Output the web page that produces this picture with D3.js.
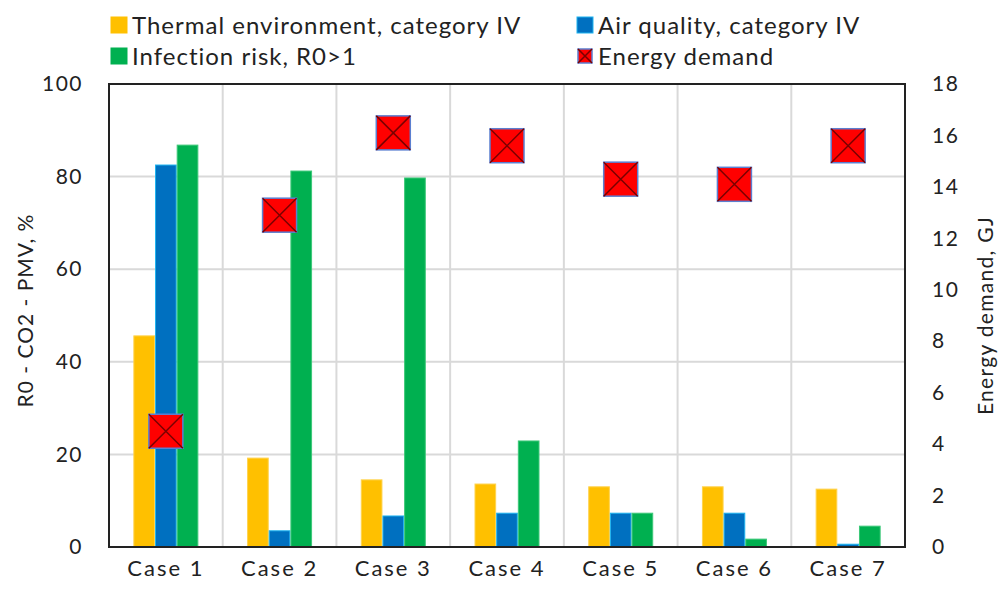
<!DOCTYPE html>
<html>
<head>
<meta charset="utf-8">
<script src="https://cdn.jsdelivr.net/npm/d3@7"></script>
<style>
  body { margin: 0; background: #fff; }
  svg text { font-family: Lato, "Liberation Sans", sans-serif; fill: #222; }
</style>
</head>
<body>
<svg id="chart" width="1001" height="590"></svg>
<script>
// Cases along the x axis
const categories = ["Case 1", "Case 2", "Case 3", "Case 4", "Case 5", "Case 6", "Case 7"];
// Percentages (left axis)
const thermal = [45.6, 19.2, 14.5, 13.6, 13.0, 13.0, 12.5];
const airQuality = [82.5, 3.5, 6.7, 7.3, 7.3, 7.3, 0.6];
const infection = [86.8, 81.2, 79.7, 22.9, 7.3, 1.7, 4.5];
// Energy demand in GJ (right axis)
const energy = [4.5, 12.9, 16.1, 15.6, 14.3, 14.1, 15.6];
const leftTicks = [0, 20, 40, 60, 80, 100];
const rightTicks = [0, 2, 4, 6, 8, 10, 12, 14, 16, 18];

const seriesNames = ["Thermal environment, category IV", "Air quality, category IV", "Infection risk, R0>1", "Energy demand"];

const svg = d3.select("#chart");
const m = { left: 109, right: 96, top: 84, bottom: 43 };
const W = 1001, H = 590;
const x0 = m.left, x1 = W - m.right, y0 = H - m.bottom, y1 = m.top;

const x = d3.scaleBand().domain(categories).range([x0, x1]);
const yL = d3.scaleLinear().domain([0, 100]).range([y0, y1]);
const yR = d3.scaleLinear().domain([0, 18]).range([y0, y1]);

const bars = [
  { key: "thermal", values: thermal, fill: "#FFC000", stroke: "#FFD34D" },
  { key: "air", values: airQuality, fill: "#0070C0", stroke: "#1EB4F0" },
  { key: "infection", values: infection, fill: "#00B050", stroke: "#3CC878" }
];
const inner = d3.scaleBand().domain(bars.map(b => b.key)).range([0, 65]);
const groupOffset = (x.bandwidth() - 65) / 2;

// Gridlines
const grid = svg.append("g").attr("stroke", "#d9d9d9").attr("stroke-width", 2);
grid.selectAll("line.h").data(leftTicks.filter(t => t > 0 && t < 100)).join("line")
  .attr("x1", x0).attr("x2", x1).attr("y1", d => yL(d)).attr("y2", d => yL(d));
grid.selectAll("line.v").data(categories.slice(1)).join("line")
  .attr("x1", d => x(d)).attr("x2", d => x(d)).attr("y1", y1).attr("y2", y0);

// Bars
bars.forEach(b => {
  svg.append("g").selectAll("rect").data(b.values).join("rect")
    .attr("x", (d, i) => x(categories[i]) + groupOffset + inner(b.key) + 0.5)
    .attr("width", inner.bandwidth() - 1)
    .attr("y", d => yL(d))
    .attr("height", d => y0 - yL(d))
    .attr("fill", b.fill)
    .attr("stroke", b.stroke).attr("stroke-width", 1);
});

// Frame
svg.append("rect").attr("x", x0).attr("y", y1).attr("width", x1 - x0).attr("height", y0 - y1)
  .attr("fill", "none").attr("stroke", "#222").attr("stroke-width", 2);

// Energy markers
const ms = 34;
function marker(g, s) {
  g.append("rect").attr("x", -s / 2).attr("y", -s / 2).attr("width", s).attr("height", s)
    .attr("fill", "#FF0000").attr("stroke", "#5B7FD0").attr("stroke-width", 1.5);
  g.append("path").attr("d", `M${-s/2},${-s/2}L${s/2},${s/2}M${s/2},${-s/2}L${-s/2},${s/2}`)
    .attr("stroke", "#7A0000").attr("stroke-width", 1.5);
}
svg.append("g").selectAll("g").data(energy).join("g")
  .attr("transform", (d, i) => `translate(${x(categories[i]) + x.bandwidth() / 2},${yR(d)})`)
  .each(function () { marker(d3.select(this), ms); });

// Axes
const leftAxis = svg.append("g").attr("transform", `translate(${x0},0)`)
  .call(d3.axisLeft(yL).tickValues(leftTicks).tickSize(0).tickPadding(26));
const rightAxis = svg.append("g").attr("transform", `translate(${x1},0)`)
  .call(d3.axisRight(yR).tickValues(rightTicks).tickSize(0).tickPadding(27));
const bottomAxis = svg.append("g").attr("transform", `translate(0,${y0})`)
  .call(d3.axisBottom(x).tickSize(0).tickPadding(13));
[leftAxis, rightAxis].forEach(a => {
  a.select(".domain").remove();
  a.selectAll("text").style("font-size", "21px").style("letter-spacing", "1.5px").attr("fill", "#222");
});
bottomAxis.select(".domain").remove();
bottomAxis.selectAll("text").style("font-size", "22px").style("letter-spacing", "2px").attr("fill", "#222");

// Axis titles
svg.append("text").attr("transform", `translate(33,${(y0 + y1) / 2 - 5}) rotate(-90)`)
  .attr("text-anchor", "middle").style("font-size", "21px").style("letter-spacing", "1px")
  .text("R0 - CO2 - PMV, %");
svg.append("text").attr("transform", `translate(993,${(y0 + y1) / 2}) rotate(-90)`)
  .attr("text-anchor", "middle").style("font-size", "21px").style("letter-spacing", "1.3px")
  .text("Energy demand, GJ");

// Legend
const legendItems = [
  { name: seriesNames[0], x: 111, y: 25, type: "bar", fill: "#FFC000", stroke: "#FFC000" },
  { name: seriesNames[1], x: 577, y: 25, type: "bar", fill: "#0070C0", stroke: "#1EB4F0" },
  { name: seriesNames[2], x: 111, y: 56, type: "bar", fill: "#00B050", stroke: "#00B050" },
  { name: seriesNames[3], x: 577, y: 56, type: "marker" }
];
const lg = svg.append("g").selectAll("g").data(legendItems).join("g")
  .attr("transform", d => `translate(${d.x},${d.y})`);
lg.each(function (d) {
  const g = d3.select(this);
  if (d.type === "bar") {
    g.append("rect").attr("x", 0).attr("y", -8).attr("width", 16).attr("height", 16)
      .attr("fill", d.fill).attr("stroke", d.stroke);
  } else {
    const mg = g.append("g").attr("transform", "translate(8,0)");
    marker(mg, 14);
  }
  g.append("text").attr("x", 21).attr("y", 9).style("font-size", "24px")
    .style("letter-spacing", "1px").text(d.name);
});
</script>
</body>
</html>
